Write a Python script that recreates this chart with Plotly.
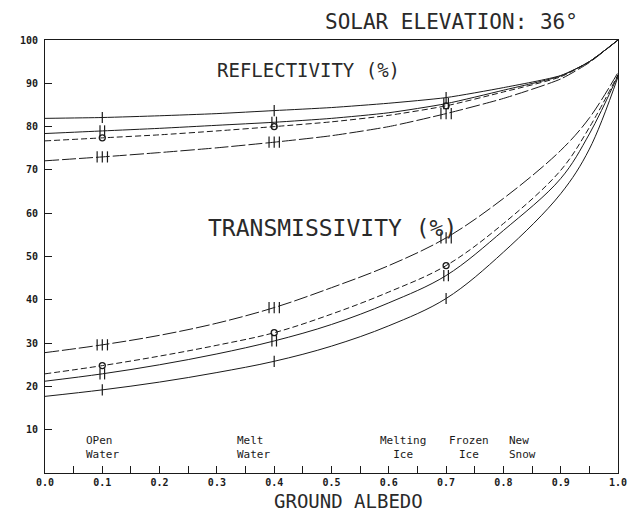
import plotly.graph_objects as go

albedo = [0.0, 0.1, 0.2, 0.3, 0.4, 0.5, 0.6, 0.7, 0.8, 0.9, 0.95, 1.0]

# Reflectivity (%) curves
refl_single = [81.9, 82.1, 82.5, 83.0, 83.7, 84.4, 85.4, 86.7, 89.0, 91.8, 95.0, 100.0]
refl_double = [78.4, 79.0, 79.6, 80.3, 81.0, 81.9, 83.2, 85.3, 88.4, 91.7, 95.0, 100.0]
refl_circle = [76.7, 77.4, 78.1, 79.0, 80.0, 81.1, 82.6, 84.8, 88.0, 91.5, 95.0, 100.0]
refl_triple = [72.1, 73.0, 74.0, 75.1, 76.4, 77.9, 80.0, 83.0, 86.5, 91.0, 94.8, 100.0]

# Transmissivity (%) curves
trans_triple = [27.8, 29.6, 31.8, 34.6, 38.2, 42.8, 47.9, 54.3, 63.4, 74.5, 82.0, 92.5]
trans_circle = [22.9, 24.8, 27.0, 29.5, 32.4, 36.7, 41.8, 47.9, 57.6, 69.9, 79.8, 92.0]
trans_double = [21.2, 22.9, 25.0, 27.5, 30.5, 34.3, 39.3, 45.6, 56.0, 68.0, 78.3, 91.8]
trans_single = [17.7, 19.2, 21.0, 23.2, 25.8, 29.3, 34.0, 40.3, 51.0, 64.5, 74.8, 91.5]

marker_albedo = [0.1, 0.4, 0.7]

surface_labels = ["OPen<br>Water", "Melt<br>Water", "Melting<br>Ice", "Frozen<br>Ice", "New<br>Snow"]

x_tickvals = [i * 0.05 for i in range(21)]
x_ticktext = [f"{v:.1f}" if i % 2 == 0 else "" for i, v in enumerate(x_tickvals)]
y_tickvals = [10, 20, 30, 40, 50, 60, 70, 80, 90, 100]

INK = "#1a1a1a"
# (values, dash, marker kind, smoothing)
series = [
    (refl_single, "solid", 1, 0.6),
    (refl_double, "solid", 2, 0.6),
    (refl_circle, "6px,3px", 0, 0.6),
    (refl_triple, "14px,3px", 3, 0.6),
    (trans_triple, "14px,3px", 3, 1.0),
    (trans_circle, "6px,3px", 0, 1.0),
    (trans_double, "solid", 2, 1.0),
    (trans_single, "solid", 1, 1.0),
]
BAR_OFFSETS = {1: [0.0], 2: [-0.004, 0.004], 3: [-0.009, 0.0, 0.009]}

fig = go.Figure()
for ys, dash, mk, sm in series:
    fig.add_trace(go.Scatter(
        x=albedo, y=ys, mode="lines",
        line=dict(color=INK, width=1, dash=dash, shape="spline", smoothing=sm),
        hoverinfo="skip", showlegend=False))
    my = [ys[albedo.index(a)] for a in marker_albedo]
    if mk == 0:
        fig.add_trace(go.Scatter(
            x=marker_albedo, y=my, mode="markers",
            marker=dict(symbol="circle-open", size=6, color=INK, line=dict(width=1.3, color=INK)),
            showlegend=False, hoverinfo="skip"))
    else:
        for off in BAR_OFFSETS[mk]:
            fig.add_trace(go.Scatter(
                x=[a + off for a in marker_albedo], y=my, mode="markers",
                marker=dict(symbol="line-ns", size=8, color=INK, line=dict(width=1.2, color=INK)),
                showlegend=False, hoverinfo="skip"))

thin = dict(family="DejaVu Sans Mono", color="#2a2a2a")
annos = [
    dict(text="SOLAR ELEVATION: 36°", xref="paper", yref="paper", x=0.71, y=1.071,
         yanchor="top", borderpad=0, font=dict(size=21, **thin)),
    dict(text="REFLECTIVITY (%)", xref="x", yref="y", x=0.46, y=93.1,
         font=dict(size=19, **thin)),
    dict(text="TRANSMISSIVITY (%)", xref="x", yref="y", x=0.502, y=56.6,
         font=dict(size=23, **thin)),
    dict(text="GROUND ALBEDO", xref="paper", yref="paper", x=0.53, y=-0.064,
         borderpad=0, font=dict(size=19, **thin)),
]
lab_font = dict(family="DejaVu Sans Mono", size=11, color=INK)
lab_pos = [(0.068, "left", "left"), (0.331, "left", "left"), (0.625, "center", "center"),
           (0.74, "center", "center"), (0.807, "left", "left")]
for t, (sx, xa, al) in zip(surface_labels, lab_pos):
    annos.append(dict(text=t, xref="x", yref="y", x=sx, y=5.8, xanchor=xa, align=al,
                      font=lab_font))
for a in annos:
    a.setdefault("showarrow", False)
    a.setdefault("xanchor", "center")
    a.setdefault("yanchor", "middle")
fig.update_layout(annotations=annos)

# page body adds an 8px margin, so the figure is sized to fit the window
fig.update_layout(
    width=631, height=504,
    margin=dict(l=28, r=21, t=32, b=39, pad=0),
    paper_bgcolor="white", plot_bgcolor="white",
    font=dict(family="DejaVu Sans Mono", color=INK),
    xaxis=dict(range=[0, 1.0], tickvals=x_tickvals, ticktext=x_ticktext,
               ticks="inside", ticklen=7, tickcolor=INK, tickwidth=1,
               showline=True, linecolor=INK, linewidth=1, mirror=True,
               showgrid=False, zeroline=False,
               tickfont=dict(family="DejaVu Sans Mono", size=10, color=INK, weight="bold")),
    yaxis=dict(range=[0, 100], tickvals=y_tickvals,
               ticks="inside", ticklen=7, tickcolor=INK, tickwidth=1,
               showline=True, linecolor=INK, linewidth=1, mirror=True,
               showgrid=False, zeroline=False, ticklabelstandoff=4,
               tickfont=dict(family="DejaVu Sans Mono", size=10, color=INK, weight="bold")),
)

fig.write_html("out.html")
